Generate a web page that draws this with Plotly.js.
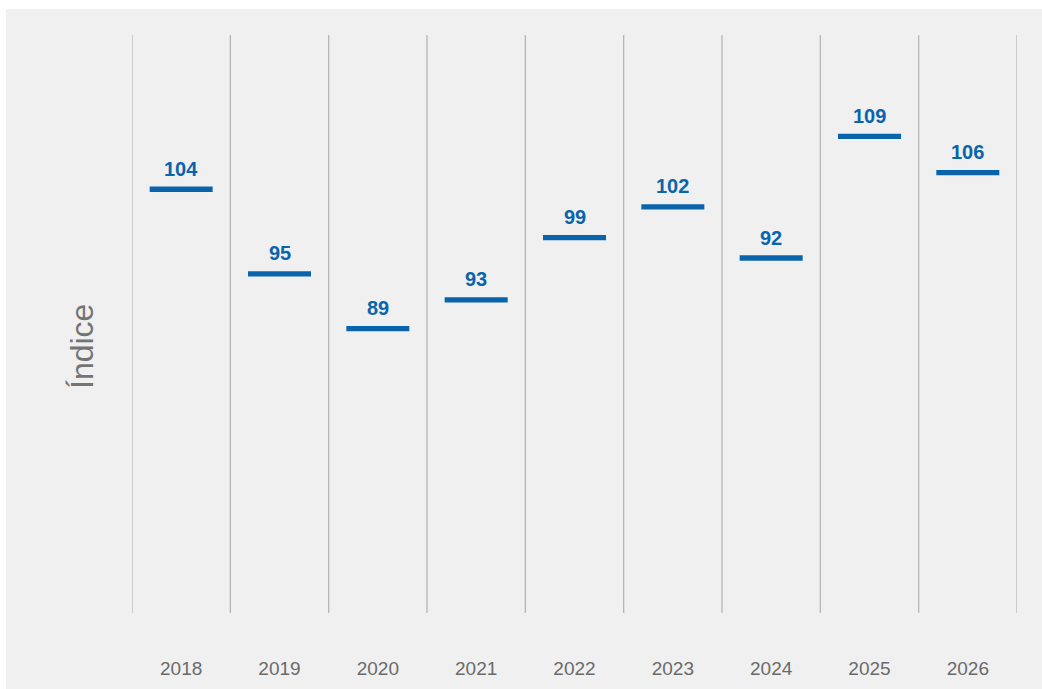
<!DOCTYPE html>
<html>
<head>
<meta charset="utf-8">
<script src="https://cdn.plot.ly/plotly-3.0.1.min.js"></script>
<style>html,body{margin:0;padding:0;background:#fff;}#chart{width:1042px;height:689px;}</style>
</head>
<body>
<div id="chart"></div>
<script>
// Data
const years = ['2018','2019','2020','2021','2022','2023','2024','2025','2026'];
const levels = [104.0, 94.9, 89.0, 92.1, 98.8, 102.1, 96.6, 109.7, 105.8]; // bar level
const valueLabels = ['104','95','89','93','99','102','92','109','106'];
const yTitle = 'Índice';

const BLUE = '#0a64ac';
const FONT = 'Liberation Sans, Arial, sans-serif';
const idx = years.map((_, i) => i);

const trace = {
  x: idx,
  y: levels,
  type: 'scatter',
  mode: 'markers',
  marker: {symbol: 'line-ew', size: 45, color: BLUE, line: {color: BLUE, width: 5.3}},
  hoverinfo: 'skip',
  cliponaxis: false
};

const shapes = [];
// gray background panel (paper area except thin white border)
shapes.push({type: 'rect', xref: 'paper', yref: 'paper', x0: -0.1424, x1: 1.03, y0: -0.135, y1: 1.045,
  fillcolor: '#f0f0f0', line: {width: 0}, layer: 'below'});
for (let i = 0; i <= years.length; i++) {
  shapes.push({type: 'line', xref: 'x', yref: 'paper', x0: i - 0.5, x1: i - 0.5, y0: 0, y1: 1,
    line: {color: '#b2b2b2', width: 1.2}, layer: 'below'});
}

const annotations = levels.map((v, i) => ({
  x: i, y: v, xref: 'x', yref: 'y', text: valueLabels[i], showarrow: false,
  yanchor: 'middle', yshift: 20.5,
  font: {family: FONT, size: 20, color: BLUE, weight: 700}
}));
// y-axis title
annotations.push({
  xref: 'paper', yref: 'paper', x: -50 / 885, y: (613 - 347) / 578,
  xanchor: 'center', yanchor: 'middle', textangle: -90, showarrow: false,
  text: yTitle, font: {family: FONT, size: 32, color: '#747474'}
});

const layout = {
  width: 1042, height: 689,
  margin: {l: 132, r: 25, t: 35, b: 76},
  paper_bgcolor: '#ffffff',
  plot_bgcolor: 'rgba(0,0,0,0)',
  showlegend: false,
  xaxis: {
    range: [-0.5, 8.5], tickvals: idx, ticktext: years,
    showgrid: false, zeroline: false, showline: false, ticks: '',
    ticklabelstandoff: 42,
    tickfont: {family: FONT, size: 19, color: '#6a6a6a'},
    fixedrange: true
  },
  yaxis: {
    range: [58.4, 120.6], showgrid: false, zeroline: false, showline: false,
    showticklabels: false, ticks: '',
    fixedrange: true
  },
  shapes: shapes,
  annotations: annotations
};

Plotly.newPlot('chart', [trace], layout, {displayModeBar: false, staticPlot: true});
</script>
</body>
</html>
